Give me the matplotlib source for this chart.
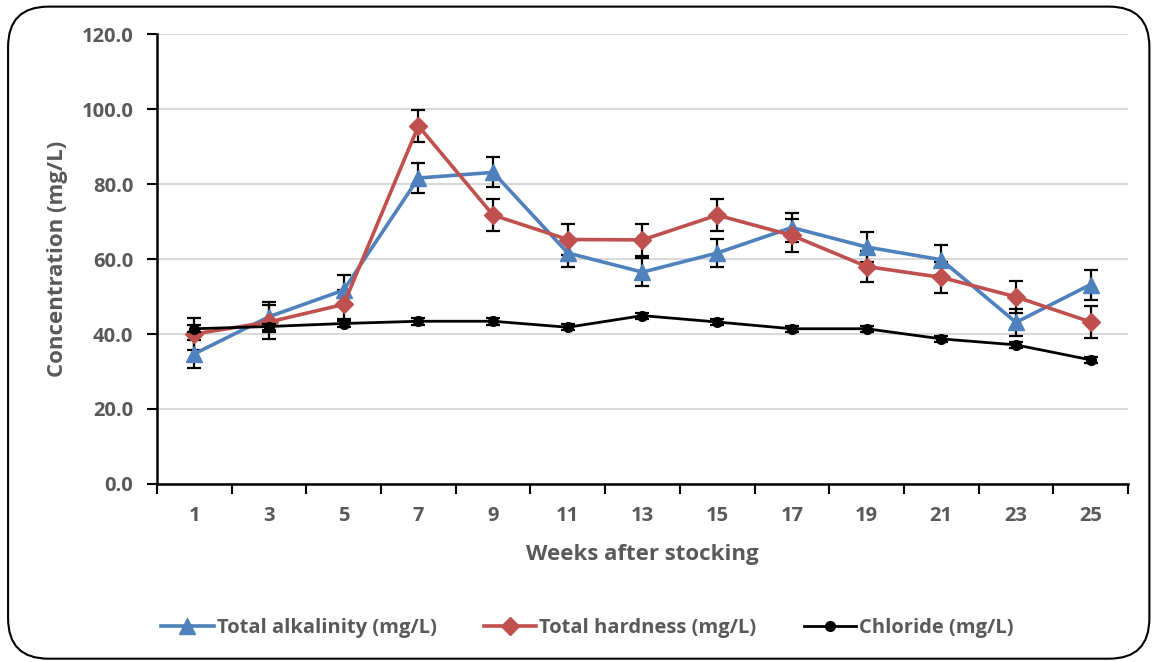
import matplotlib
matplotlib.use("Agg")
import matplotlib.pyplot as plt
from matplotlib.patches import FancyBboxPatch
from matplotlib.lines import Line2D
import numpy as np

plt.rcParams['font.family'] = ['Open Sans', 'DejaVu Sans']

weeks = ["1", "3", "5", "7", "9", "11", "13", "15", "17", "19", "21", "23", "25"]

alkalinity = [34.7, 44.6, 51.7, 81.6, 83.1, 61.6, 56.5, 61.6, 68.4, 63.2, 59.8, 43.1, 53.2]
alkalinity_err = [3.8, 4.0, 4.0, 4.0, 4.0, 3.7, 3.8, 3.8, 3.8, 4.0, 4.0, 3.6, 4.0]

hardness = [40.0, 43.2, 47.9, 95.5, 71.7, 65.2, 65.1, 71.7, 66.3, 58.0, 55.1, 49.9, 43.2]
hardness_err = [4.2, 4.5, 3.8, 4.2, 4.3, 4.2, 4.2, 4.2, 4.3, 4.2, 4.2, 4.3, 4.3]

chloride = [41.4, 42.0, 42.8, 43.4, 43.4, 41.8, 44.9, 43.2, 41.4, 41.4, 38.7, 37.1, 33.1]
chloride_err = [0.9, 0.8, 0.8, 0.9, 0.9, 0.8, 0.8, 0.8, 0.8, 0.8, 0.8, 0.8, 0.8]

series_labels = ["Total alkalinity (mg/L)", "Total hardness (mg/L)", "Chloride (mg/L)"]
blue, red, black, grey = "#4F81BD", "#C0504D", "#000000", "#595959"

fig = plt.figure(figsize=(11.54, 6.62), dpi=100)
ax = fig.add_axes([0.136, 0.2689, 0.8415, 0.6797])

x = np.arange(len(weeks))

styles = [
    dict(color=blue, lw=2.6, marker="^", ms=12),
    dict(color=red, lw=2.6, marker="D", ms=9),
    dict(color=black, lw=2.0, marker="o", ms=7),
]
err_kw = dict(ecolor="black", elinewidth=1.6, capsize=5, capthick=1.6)
for vals, errs, st, z in zip([alkalinity, hardness, chloride],
                             [alkalinity_err, hardness_err, chloride_err],
                             styles, [3, 3, 4]):
    ax.errorbar(x, vals, yerr=errs, zorder=z, **st, **err_kw)

ax.set_xlim(-0.5, len(weeks) - 0.5)
ax.set_ylim(0, 120)
ax.set_yticks(np.arange(0, 121, 20))
ax.set_yticklabels([f"{v:.1f}" for v in np.arange(0, 121, 20)])
ax.set_xticks(x)
ax.set_xticklabels(weeks)
ax.set_xticks(np.arange(-0.5, len(weeks), 1), minor=True)
ax.tick_params(axis="x", which="major", length=0, pad=16)
ax.tick_params(axis="x", which="minor", length=7, width=1.5, direction="out")
ax.tick_params(axis="y", length=7, width=1.5, direction="out", pad=10)
for lab in ax.get_xticklabels() + ax.get_yticklabels():
    lab.set_fontsize(14.5)
    lab.set_fontweight("bold")
    lab.set_color(grey)

ax.grid(axis="y", color="#D9D9D9", lw=1.5)
ax.set_axisbelow(True)
for side in ("top", "right"):
    ax.spines[side].set_visible(False)
for side in ("left", "bottom"):
    ax.spines[side].set_linewidth(1.8)

ax.set_xlabel("Weeks after stocking", fontsize=16, fontweight="bold", color=grey, labelpad=13)
ax.set_ylabel("Concentration (mg/L)", fontsize=16, fontweight="bold", color=grey, labelpad=10)

handles = [Line2D([], [], **st) for st in styles]
leg = fig.legend(handles, series_labels, loc="center", bbox_to_anchor=(0.509, 0.052), ncol=3,
                 frameon=False, prop=dict(size=14.5, weight="bold"), handlelength=2.6,
                 handletextpad=0.15, columnspacing=2.35)
for t in leg.get_texts():
    t.set_color(grey)

frame = FancyBboxPatch((0.007, 0.005), 0.989, 0.985, transform=fig.transFigure,
                       boxstyle="round,pad=0,rounding_size=0.035", fill=False,
                       edgecolor="black", lw=1.5, mutation_aspect=1154 / 662)
fig.patches.append(frame)

fig.savefig("out.png", dpi=100, facecolor="white")
